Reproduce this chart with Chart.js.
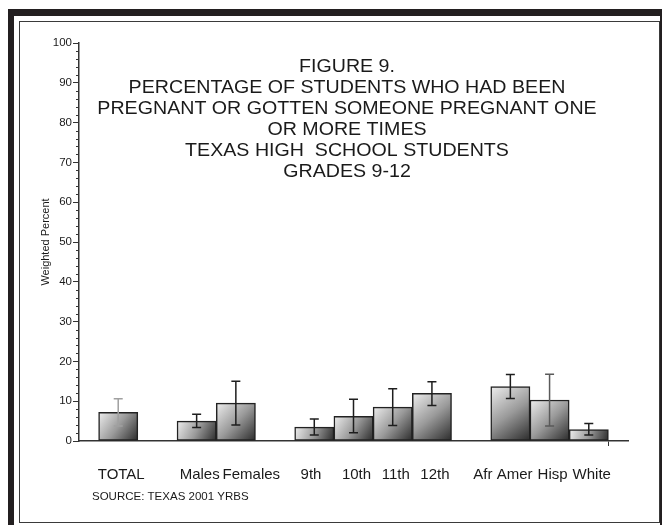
<!DOCTYPE html>
<html>
<head>
<meta charset="utf-8">
<script src="https://cdn.jsdelivr.net/npm/chart.js@4"></script>
<style>
  html, body { margin: 0; padding: 0; background: #fff; }
  #wrap { position: relative; width: 662px; height: 525px; overflow: hidden; }
  .band { position: absolute; left: 8px; top: 9px; width: 660px; height: 520px;
          border-top: 7px solid #231f20; border-left: 6px solid #231f20; box-sizing: border-box; }
  .inner { position: absolute; left: 19px; top: 21px; width: 641px; height: 502px;
           border: 1.5px solid #3a3a3a; box-sizing: border-box; }
  .rightEdge { position: absolute; left: 660px; top: 16px; width: 2px; height: 509px; background: #231f20; }
  canvas { position: absolute; left: 0; top: 0; }
</style>
</head>
<body>
<div id="wrap">
  <div class="band"></div>
  <div class="inner"></div>
  <div class="rightEdge"></div>
  <canvas id="pregChart" width="662" height="525"></canvas>
</div>
<script>
// categories, with empty slots for the gaps between groups
const categories = ['', 'TOTAL', '', 'Males', 'Females', '', '9th', '10th', '11th', '12th', '', 'Afr Amer', 'Hisp', 'White', ''];
const percent    = [null, 7.2, null, 5.0, 9.5, null, 3.5, 6.2, 8.5, 12.0, null, 13.7, 10.3, 2.9, null];
const lowerCI    = [null, 3.8, null, 3.4, 4.0, null, 1.5, 2.1, 3.9, 8.9, null, 10.7, 3.8, 1.5, null];
const upperCI    = [null, 10.6, null, 6.7, 15.0, null, 5.5, 10.5, 13.1, 14.9, null, 16.7, 16.8, 4.4, null];
const yTicks = [0, 10, 20, 30, 40, 50, 60, 70, 80, 90, 100];

const titleLines = [
    'FIGURE 9.',
    'PERCENTAGE OF STUDENTS WHO HAD BEEN',
    'PREGNANT OR GOTTEN SOMEONE PREGNANT ONE',
    'OR MORE TIMES',
    'TEXAS HIGH  SCHOOL STUDENTS',
    'GRADES 9-12'
];
const sourceNote = 'SOURCE: TEXAS 2001 YRBS';

const FONT = '"Liberation Sans", Arial, sans-serif';
const errColor = { 'TOTAL': '#a0a0a0', 'Hisp': '#5a5a5a' };
// the original tick labels sit a little off their bars
const labelShift = { 'Females': 6, '9th': -3, 'Afr Amer': -5 };

// gradient fill for each bar, light top-left to dark bottom-right
function barFill(context) {
    let chart = context.chart;
    if (!chart.chartArea || context.raw == null) return '#999';
    let xs = chart.scales.x, ys = chart.scales.y;
    let half = (xs.getPixelForValue(1) - xs.getPixelForValue(0)) / 2;
    let cx = xs.getPixelForValue(context.dataIndex);
    let top = ys.getPixelForValue(context.raw);
    let bottom = ys.getPixelForValue(0);
    let g = chart.ctx.createLinearGradient(cx - half, top, cx + half, bottom);
    g.addColorStop(0, '#eeeeee');
    g.addColorStop(0.5, '#9a9a9a');
    g.addColorStop(1, '#2a2a2a');
    return g;
}

const extras = {
    id: 'extras',
    afterDraw(chart) {
        let ctx = chart.ctx;
        let xs = chart.scales.x, ys = chart.scales.y;
        ctx.save();

        // minor ticks on the y axis
        ctx.strokeStyle = '#333';
        ctx.lineWidth = 1;
        for (let v = 2; v < 100; v += 2) {
            if (v % 10 === 0) continue;
            let y = Math.round(ys.getPixelForValue(v)) + 0.5;
            ctx.beginPath();
            ctx.moveTo(xs.left - 3, y);
            ctx.lineTo(xs.left, y);
            ctx.stroke();
        }

        // error bars
        ctx.lineWidth = 1.5;
        for (let i = 0; i < categories.length; i++) {
            if (percent[i] == null) continue;
            let x = xs.getPixelForValue(i);
            let yl = ys.getPixelForValue(lowerCI[i]);
            let yh = ys.getPixelForValue(upperCI[i]);
            ctx.strokeStyle = errColor[categories[i]] || '#1e1e1e';
            ctx.beginPath();
            ctx.moveTo(x, yl); ctx.lineTo(x, yh);
            ctx.moveTo(x - 4.5, yl); ctx.lineTo(x + 4.5, yl);
            ctx.moveTo(x - 4.5, yh); ctx.lineTo(x + 4.5, yh);
            ctx.stroke();
        }

        // title inside the plot (the original type is a bit wide)
        ctx.fillStyle = '#1a1a1a';
        ctx.font = '18px ' + FONT;
        ctx.textAlign = 'center';
        ctx.textBaseline = 'middle';
        ctx.save();
        ctx.translate(347, 0);
        ctx.scale(1.09, 1);
        titleLines.forEach((line, i) => ctx.fillText(line, 0, 67 + i * 21));
        ctx.restore();

        // source note
        ctx.font = '11.5px ' + FONT;
        ctx.textAlign = 'left';
        ctx.fillText(sourceNote, 92, 497);
        ctx.restore();
    }
};

new Chart(document.getElementById('pregChart').getContext('2d'), {
    type: 'bar',
    data: {
        labels: categories,
        datasets: [{
            data: percent,
            backgroundColor: barFill,
            borderColor: '#222',
            borderWidth: 1.5,
            borderSkipped: false,
            barPercentage: 1,
            categoryPercentage: 1
        }]
    },
    options: {
        responsive: false,
        animation: false,
        events: [],
        layout: { padding: { left: 39, right: 34, top: 43, bottom: 0 } },
        plugins: {
            legend: { display: false },
            tooltip: { enabled: false }
        },
        scales: {
            x: {
                offset: false,
                afterFit: s => { s.height = 84; },
                border: { color: '#333', width: 1.5 },
                grid: {
                    drawOnChartArea: false,
                    tickLength: 5,
                    tickColor: c => (c.index === 0 || c.index === categories.length - 1) ? '#333' : 'rgba(0,0,0,0)'
                },
                ticks: {
                    autoSkip: false,
                    maxRotation: 0,
                    padding: 20,
                    labelOffset: 3,
                    color: '#1a1a1a',
                    font: { family: FONT, size: 15 },
                    callback: function (v) {
                        let lab = categories[v];
                        let n = labelShift[lab] || 0;
                        return n > 0 ? ' '.repeat(n) + lab : lab + ' '.repeat(-n);
                    }
                }
            },
            y: {
                min: 0,
                max: 100,
                afterFit: s => { s.width = 40; },
                afterBuildTicks: s => { s.ticks = yTicks.map(v => ({ value: v })); },
                border: { color: '#333', width: 1.5 },
                grid: { drawOnChartArea: false, tickLength: 6, tickColor: '#333' },
                ticks: {
                    padding: 1,
                    color: '#1a1a1a',
                    font: { family: FONT, size: 11.5 }
                },
                title: {
                    display: true,
                    text: 'Weighted Percent',
                    color: '#1a1a1a',
                    font: { family: FONT, size: 11 },
                    padding: { top: 0, bottom: 4 }
                }
            }
        }
    },
    plugins: [extras]
});
</script>
</body>
</html>
